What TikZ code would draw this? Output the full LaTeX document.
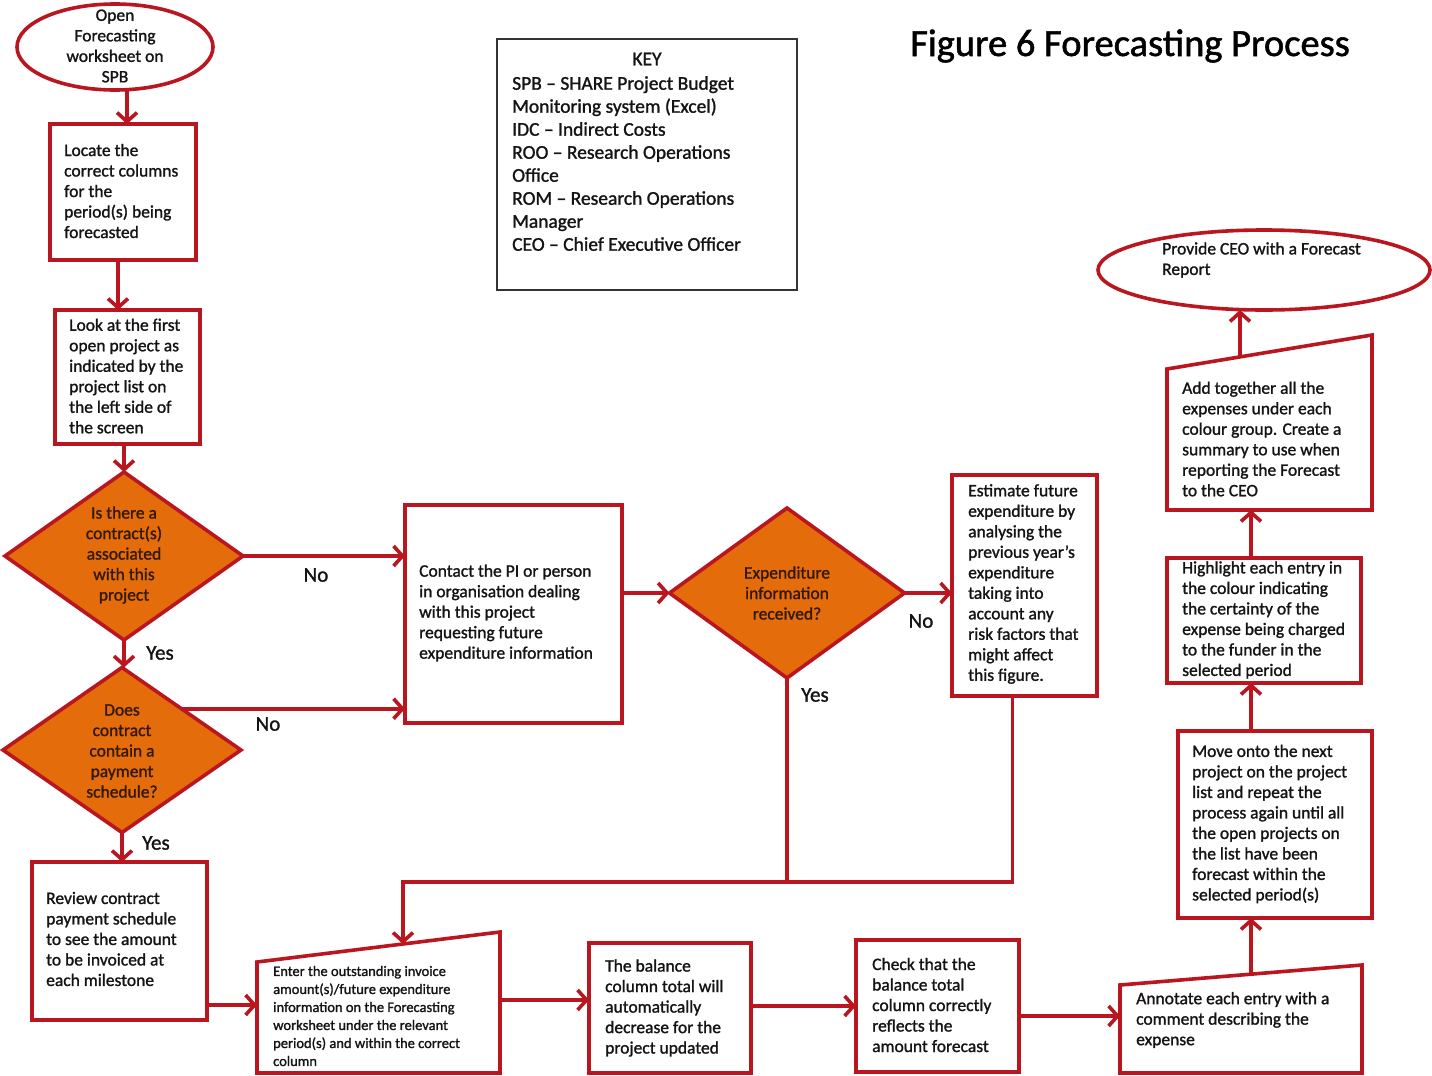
\documentclass[tikz,border=0pt]{standalone}
\usepackage{fontspec}
\setmainfont{Carlito}[FakeBold=1.3]
\usetikzlibrary{shapes.geometric,arrows.meta,calc}
\definecolor{brd}{RGB}{185,22,32}
\definecolor{org}{RGB}{228,108,10}
\definecolor{dtxt}{RGB}{50,25,5}
\definecolor{txtc}{RGB}{20,20,20}
\begin{document}
\begin{tikzpicture}[x=1pt,y=-1pt,
 shp/.style={draw=brd, line width=3.6pt, fill=white, inner sep=0pt, outer sep=0pt, rectangle},
 ell/.style={shp, ellipse},
 dia/.style={shp, diamond, fill=org},
 hid/.style={rectangle, inner sep=0pt, outer sep=0pt},
 bline/.style={draw=brd, line width=3.6pt, fill=white, line join=miter},
 txt/.style={anchor=west, align=left, inner sep=0pt, text=txtc, font=\fontsize{17.5}{20.5}\selectfont},
 ctxt/.style={align=center, inner sep=0pt, text=txtc, font=\fontsize{17.5}{20.5}\selectfont},
 dtext/.style={align=center, inner sep=0pt, text=dtxt, font=\fontsize{17.5}{20.5}\selectfont},
 lbl/.style={inner sep=0pt, text=txtc, font=\fontsize{21}{24}\selectfont},
 arr/.style={draw=brd, line width=3.6pt, -{Straight Barb[length=9pt,width=20pt]}},
 ln/.style={draw=brd, line width=3.6pt},
]
\fill[white] (0,0) rectangle (1432,1076);
\useasboundingbox (0,0) rectangle (1432,1076);

% title
\node[inner sep=0pt, text=black, font=\fontsize{38.5}{44}\selectfont] (title) at (1130,46) {Figure 6 Forecasting Process};

% key
\node[draw=black!80, line width=1.5pt, minimum width=300, minimum height=251, inner sep=0pt, outer sep=0pt] (key) at (647,164.5) {};
\node[inner sep=0pt, text=txtc, font=\fontsize{19.5}{23}\selectfont] (keyh) at (647,59) {KEY};
\node[anchor=north west, align=left, inner sep=0pt, text=txtc, font=\fontsize{19.5}{23}\selectfont] (keyl) at (512,76) {SPB – SHARE Project Budget\\Monitoring  system (Excel)\\IDC – Indirect Costs\\ROO – Research Operations\\Office\\ROM – Research Operations\\Manager\\CEO – Chief Executive Officer};

% left column
\node[ell, minimum width=196, minimum height=86] (open) at (115,47) {};
\node[ctxt] (opent) at (115,46) {Open\\Forecasting\\worksheet on\\SPB};

\node[shp, minimum width=146, minimum height=136] (locate) at (123,192) {};
\node[txt] (locatet) at (64,191) {Locate the\\correct columns\\for the\\period(s) being\\forecasted};

\node[shp, minimum width=145, minimum height=134] (look) at (127.5,377) {};
\node[txt] (lookt) at (69,376) {Look at the first\\open project as\\indicated by the\\project list on\\the left side of\\the screen};

\node[dia, minimum width=238, minimum height=168] (d1) at (124,556) {};
\node[dtext] (d1t) at (124,555) {Is there a\\contract(s)\\associated\\with this\\project};

\node[dia, minimum width=238, minimum height=165] (d2) at (122,750) {};
\node[dtext] (d2t) at (122,751) {Does\\contract\\contain a\\payment\\schedule?};

\node[shp, minimum width=175, minimum height=158] (review) at (119.5,941) {};
\node[txt] (reviewt) at (46,939) {Review contract\\payment schedule\\to see the amount\\to be invoiced at\\each milestone};

% middle
\node[shp, minimum width=217, minimum height=218] (contact) at (513.5,614) {};
\node[txt] (contactt) at (419,613) {Contact the PI or person\\in organisation dealing\\with  this project\\requesting future\\expenditure information};

\node[dia, minimum width=235, minimum height=170] (d3) at (787,593) {};
\node[dtext] (d3t) at (787,593) {Expenditure\\information\\received?};

\node[shp, minimum width=145, minimum height=221] (est) at (1024.5,585.5) {};
\node[txt] (estt) at (968,584) {Estimate future\\expenditure by\\analysing the\\previous year’s\\expenditure\\taking into\\account any\\risk factors that\\might affect\\this figure.};

% bottom row
\node[hid, minimum width=243, minimum height=111] (enter) at (378.5,1017.5) {};
\draw[bline] (enter.north west) -- ($(enter.north east)+(0,-30)$) -- (enter.south east) -- (enter.south west) -- cycle;
\node[txt, font=\fontsize{14.5}{18}\selectfont] (entert) at (273,1016) {Enter the outstanding invoice\\amount(s)/future expenditure\\information  on the Forecasting\\worksheet under the relevant\\period(s) and within the correct\\column};

\node[shp, minimum width=162, minimum height=130] (balance) at (670,1008) {};
\node[txt] (balancet) at (605,1008) {The balance\\column total will\\automatically\\decrease for the\\project updated};

\node[shp, minimum width=163, minimum height=132] (check) at (937.5,1006) {};
\node[txt] (checkt) at (872,1005) {Check that the\\balance total\\column correctly\\reflects the\\amount forecast};

\node[hid, minimum width=242, minimum height=88] (ann) at (1241,1029) {};
\draw[bline] (ann.north west) -- ($(ann.north east)+(0,-20)$) -- (ann.south east) -- (ann.south west) -- cycle;
\node[txt] (annt) at (1136,1020) {Annotate each entry with a\\comment describing the\\expense};

% right column
\node[shp, minimum width=194, minimum height=187] (move) at (1275,824.5) {};
\node[txt] (movet) at (1192,824) {Move onto the next\\project on the project\\list and repeat the\\process again until all\\the open projects on\\the list have been\\forecast within the\\selected period(s)};

\node[shp, minimum width=194, minimum height=125] (high) at (1264,620.5) {};
\node[txt] (hight) at (1182,620) {Highlight each entry in\\the colour indicating\\the certainty of the\\expense being charged\\to the funder in the\\selected period};

\node[hid, minimum width=205, minimum height=141] (add) at (1269.5,439.5) {};
\draw[bline] (add.north west) -- ($(add.north east)+(0,-34)$) -- (add.south east) -- (add.south west) -- cycle;
\node[txt] (addt) at (1182,439) {Add together all the\\expenses under each\\colour group.  Create a\\summary to use when\\reporting the Forecast\\to the CEO};

\node[ell, minimum width=332, minimum height=80] (ceo) at (1264,270) {};
\node[txt] (ceot) at (1162,260) {Provide CEO with a Forecast\\Report};

% connectors
\draw[arr] ([xshift=4pt]locate.north |- open.south) -- ([xshift=4pt]locate.north);
\draw[arr] ([xshift=-5pt]locate.south) -- ([xshift=-5pt]locate.south |- look.north);
\draw[arr] (d1.north |- look.south) -- (d1.north);
\draw[arr] (d1.east) -- (d1.east -| contact.west);
\draw[arr] (d1.south) -- (d1.south |- d2.north);
\draw[arr] (d2.north east) -- (d2.north east -| contact.west);
\draw[arr] (d2.south) -- (d2.south |- review.north);
\draw[arr] ([yshift=15pt]review.south east) -- ([yshift=15pt]review.south east -| enter.west);
\draw[arr] (contact.east |- d3.west) -- (d3.west);
\draw[arr] (d3.east) -- (d3.east -| est.west);
\coordinate (jl) at (403,882);
\coordinate (entop) at (403,944);
\draw[ln] (d3.south) -- (d3.south |- jl);
\draw[arr] ([xshift=-12pt]est.south) |- (jl) -- (entop);
\draw[arr] ([yshift=8pt]balance.west -| enter.east) -- ([yshift=8pt]balance.west);
\draw[arr] (check.west -| balance.east) -- (check.west);
\draw[arr] ([yshift=-10pt]check.east) -- ([yshift=-10pt]check.east -| ann.west);
\coordinate (antop) at (1251,974);
\draw[arr] (antop) -- (antop |- move.south);
\draw[arr] ([xshift=-24pt]move.north) -- ([xshift=-24pt]move.north |- high.south);
\draw[arr] ([xshift=-13pt]high.north) -- ([xshift=-13pt]high.north |- add.south);
\coordinate (adtop) at (1240,357);
\draw[arr] (adtop) -- (adtop |- ceo.south);

% labels
\node[lbl] (no1) at (316,575) {No};
\node[lbl] (yes1) at (160,653) {Yes};
\node[lbl] (no2) at (268,724) {No};
\node[lbl] (yes2) at (156,843) {Yes};
\node[lbl] (no3) at (921,621) {No};
\node[lbl] (yes3) at (815,695) {Yes};
\end{tikzpicture}
\end{document}
